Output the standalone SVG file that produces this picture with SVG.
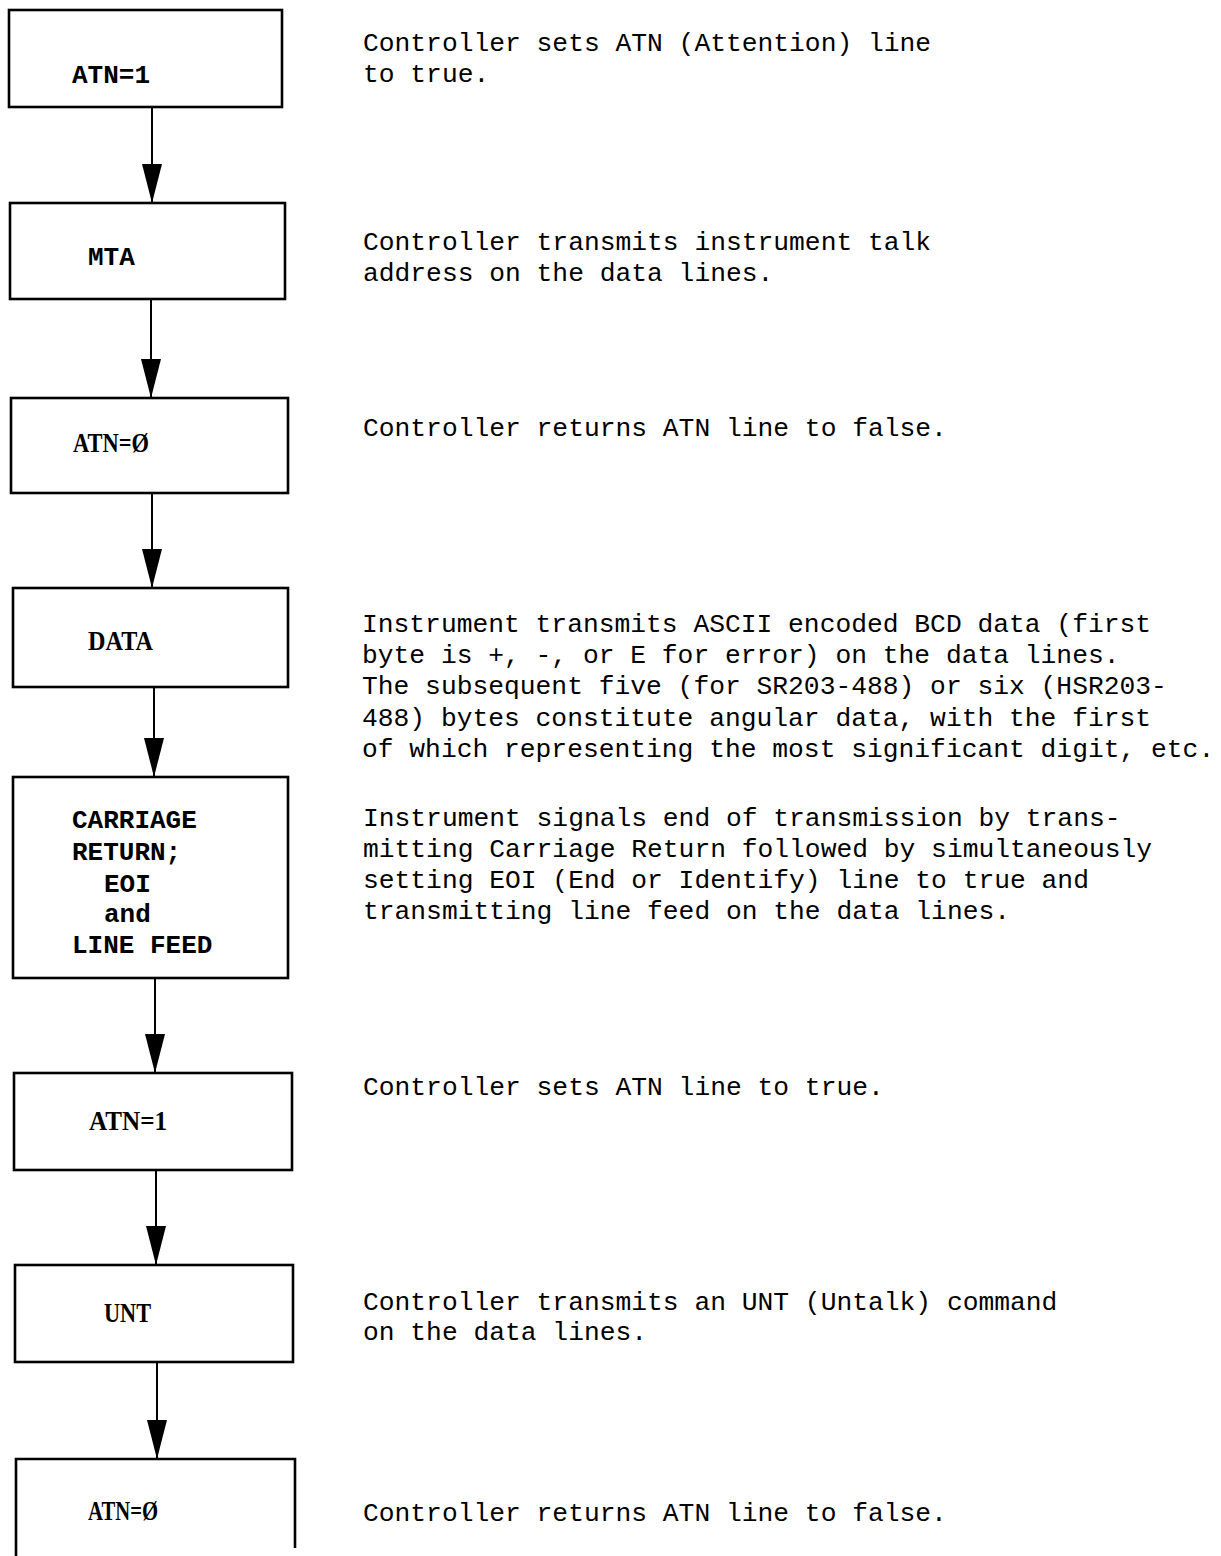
<svg xmlns="http://www.w3.org/2000/svg" width="1221" height="1556" viewBox="0 0 1221 1556">
<style>
.box{fill:#fff;stroke:#000;stroke-width:2.6}
.lbm{font-family:"Liberation Mono",monospace;font-weight:bold;font-size:26px;fill:#000}
.lbs{font-family:"Liberation Serif",serif;font-weight:bold;font-size:27px;fill:#000}
.desc{font-family:"Liberation Mono",monospace;font-size:26.3px;fill:#000}
.conn{stroke:#000;stroke-width:2;fill:none}
</style>
<defs>
<marker id="ah" markerUnits="userSpaceOnUse" viewBox="0 -11 40 22" refX="39" refY="0" markerWidth="40" markerHeight="22" orient="auto">
<path d="M0,-10 L39,0 L0,10 Z" fill="#000"/>
</marker>
</defs>
<rect width="1221" height="1556" fill="#fff"/>
<g id="connectors">
<line class="conn" x1="152" y1="107" x2="152" y2="203" marker-end="url(#ah)"/>
<line class="conn" x1="151" y1="299" x2="151" y2="398" marker-end="url(#ah)"/>
<line class="conn" x1="152" y1="493" x2="152" y2="588" marker-end="url(#ah)"/>
<line class="conn" x1="154" y1="687" x2="154" y2="777" marker-end="url(#ah)"/>
<line class="conn" x1="155" y1="978" x2="155" y2="1073" marker-end="url(#ah)"/>
<line class="conn" x1="156" y1="1170" x2="156" y2="1265" marker-end="url(#ah)"/>
<line class="conn" x1="157" y1="1362" x2="157" y2="1459" marker-end="url(#ah)"/>
</g>
<g id="n1">
<rect class="box" x="9" y="10" width="273" height="97"/>
<text class="lbm" x="72" y="83">ATN=1</text>
<text class="desc" x="363" y="51">Controller sets ATN (Attention) line</text>
<text class="desc" x="363" y="82">to true.</text>
</g>
<g id="n2">
<rect class="box" x="10" y="203" width="275" height="96"/>
<text class="lbm" x="88" y="265">MTA</text>
<text class="desc" x="363" y="250">Controller transmits instrument talk</text>
<text class="desc" x="363" y="281">address on the data lines.</text>
</g>
<g id="n3">
<rect class="box" x="11" y="398" width="277" height="95"/>
<text class="lbs" x="73" y="452" textLength="76" lengthAdjust="spacingAndGlyphs">ATN=Ø</text>
<text class="desc" x="363" y="436">Controller returns ATN line to false.</text>
</g>
<g id="n4">
<rect class="box" x="13" y="588" width="275" height="99"/>
<text class="lbs" x="88" y="650" textLength="65" lengthAdjust="spacingAndGlyphs">DATA</text>
<text class="desc" x="362" y="632">Instrument transmits ASCII encoded BCD data (first</text>
<text class="desc" x="362" y="663">byte is +, -, or E for error) on the data lines.</text>
<text class="desc" x="362" y="694">The subsequent five (for SR203-488) or six (HSR203-</text>
<text class="desc" x="362" y="726">488) bytes constitute angular data, with the first</text>
<text class="desc" x="362" y="757">of which representing the most significant digit, etc.</text>
</g>
<g id="n5">
<rect class="box" x="13" y="777" width="275" height="201"/>
<text class="lbm" x="72" y="828">CARRIAGE</text>
<text class="lbm" x="72" y="860">RETURN;</text>
<text class="lbm" x="104" y="892">EOI</text>
<text class="lbm" x="104" y="922">and</text>
<text class="lbm" x="72" y="953">LINE FEED</text>
<text class="desc" x="363" y="826">Instrument signals end of transmission by trans-</text>
<text class="desc" x="363" y="857">mitting Carriage Return followed by simultaneously</text>
<text class="desc" x="363" y="888">setting EOI (End or Identify) line to true and</text>
<text class="desc" x="363" y="919">transmitting line feed on the data lines.</text>
</g>
<g id="n6">
<rect class="box" x="14" y="1073" width="278" height="97"/>
<text class="lbs" x="89" y="1130" textLength="78" lengthAdjust="spacingAndGlyphs">ATN=1</text>
<text class="desc" x="363" y="1095">Controller sets ATN line to true.</text>
</g>
<g id="n7">
<rect class="box" x="15" y="1265" width="278" height="97"/>
<text class="lbs" x="104" y="1322" textLength="47" lengthAdjust="spacingAndGlyphs">UNT</text>
<text class="desc" x="363" y="1310">Controller transmits an UNT (Untalk) command</text>
<text class="desc" x="363" y="1340">on the data lines.</text>
</g>
<g id="n8">
<path class="box" d="M16,1556 V1459 H295 V1548"/>
<text class="lbs" x="88" y="1520" textLength="70" lengthAdjust="spacingAndGlyphs">ATN=Ø</text>
<text class="desc" x="363" y="1521">Controller returns ATN line to false.</text>
</g>
</svg>
